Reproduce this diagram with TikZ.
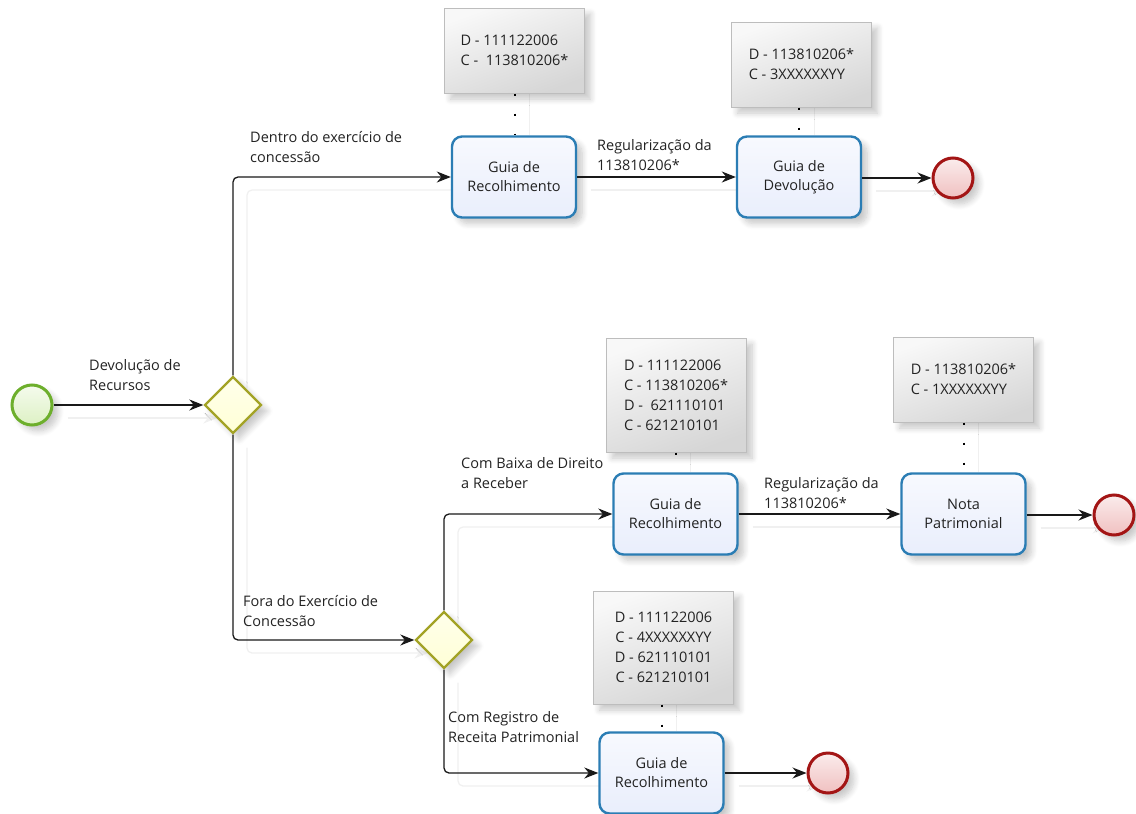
\documentclass[tikz,border=0pt]{standalone}
\usepackage{fontspec}
\setmainfont{Open Sans}
\usetikzlibrary{arrows.meta,shapes.geometric,shadows.blur,backgrounds}

\definecolor{taskline}{HTML}{2B7DB4}
\definecolor{taskfill}{HTML}{E9EEFC}
\definecolor{startline}{HTML}{6DAF2C}
\definecolor{startfill}{HTML}{DDF1C4}
\definecolor{endline}{HTML}{A31515}
\definecolor{endfill}{HTML}{F0C0C0}
\definecolor{gwline}{HTML}{A3A326}
\definecolor{gwfill}{HTML}{FFFFD6}
\definecolor{annline}{HTML}{BDBDBD}
\definecolor{annlight}{HTML}{F8F8F8}
\definecolor{anndark}{HTML}{D6D6D6}
\definecolor{txt}{HTML}{222222}

\tikzset{
  base/.style={font=\fontsize{14.5}{19}\selectfont, text=txt},
  softshadow/.style={blur shadow={shadow xshift=6pt, shadow yshift=-6pt,
      shadow blur radius=6pt, shadow blur steps=8, shadow opacity=22}},
  task/.style={base, draw=taskline, line width=2.4pt, rounded corners=10pt,
      minimum width=124pt, minimum height=81pt, align=center,
      top color=taskfill!35, bottom color=taskfill, softshadow},
  startev/.style={circle, draw=startline, line width=3pt, minimum size=40pt,
      inner sep=0pt, top color=startfill!30, bottom color=startfill, softshadow},
  endev/.style={circle, draw=endline, line width=3pt, minimum size=40pt,
      inner sep=0pt, top color=endfill!30, bottom color=endfill, softshadow},
  gateway/.style={diamond, aspect=1, draw=gwline, line width=2.4pt,
      minimum size=57pt, inner sep=0pt, top color=gwfill!50, bottom color=gwfill,
      softshadow},
  annot/.style={base, font=\fontsize{14.5}{20}\selectfont, draw=annline, line width=1pt,
      minimum width=140pt, shading=axis, top color=annlight, bottom color=anndark,
      shading angle=20, softshadow},
  flow/.style={draw=black!90, line width=1.3pt, rounded corners=5pt,
      -{Stealth[length=14pt,width=11pt]}},
  flowshadow/.style={draw=black!6, line width=1.3pt, rounded corners=5pt,
      -{Stealth[length=14pt,width=11pt]}, transform canvas={shift={(14pt,-13pt)}}},
  assoc/.style={draw=black, line width=2pt, dash pattern=on 2pt off 18pt},
  assocshadow/.style={draw=black!6, line width=1pt, transform canvas={shift={(15pt,0pt)}}},
  lbl/.style={base, font=\fontsize{14.5}{20}\selectfont, align=left, inner sep=0pt, anchor=west},
}

\begin{document}
\begin{tikzpicture}[x=1pt,y=-1pt]
\useasboundingbox (0,0) rectangle (1136,814);
\clip (0,0) rectangle (1136,814);

% events and gateways
\node[startev] (start) at (32,405) {};
\node[gateway] (g1) at (233,405) {};
\node[gateway] (g2) at (444,640) {};
\node[endev] (e1) at (953,178) {};
\node[endev] (e2) at (1114,515) {};
\node[endev] (e3) at (828,773) {};

% tasks
\node[task] (t1) at (514,177) {Guia de\\Recolhimento};
\node[task] (t2) at (799,177) {Guia de\\Devolução};
\node[task] (t3) at (675.5,514) {Guia de\\Recolhimento};
\node[task] (t4) at (963.5,514) {Nota\\Patrimonial};
\node[task] (t5) at (661.5,773) {Guia de\\Recolhimento};

% text annotations
\node[annot, minimum height=85pt, align=left] (a1) at (514.5,50.5)
  {D - 111122006\\C -~ 113810206*};
\node[annot, minimum height=85pt, align=left] (a2) at (801.5,64.5)
  {D - 113810206*\\C - 3XXXXXXYY};
\node[annot, minimum height=114pt, align=left] (a3) at (676,395)
  {D - 111122006\\C - 113810206*\\D -~ 621110101\\C - 621210101};
\node[annot, minimum height=85pt, align=left] (a4) at (963.5,379.5)
  {D - 113810206*\\C - 1XXXXXXYY};
\node[annot, minimum height=113pt, align=center] (a5) at (663.5,647.5)
  {D - 111122006\\C - 4XXXXXXYY\\D - 621110101\\C - 621210101};

% faint connector shadows, kept behind the shapes
\begin{pgfonlayer}{background}
  \draw[assocshadow] (a1.south) -- (a1.south |- t1.north);
  \draw[assocshadow] (t2.north |- a2.south) -- (t2.north);
  \draw[assocshadow] (t3.north |- a3.south) -- (t3.north);
  \draw[assocshadow] (a4.south) -- (a4.south |- t4.north);
  \draw[assocshadow] (t5.north |- a5.south) -- (t5.north);
  \draw[flowshadow] (start) -- (g1);
  \draw[flowshadow] (g1.north) |- (t1.west);
  \draw[flowshadow] (t1) -- (t2);
  \draw[flowshadow] (t2.east |- e1) -- (e1);
  \draw[flowshadow] (g1.south) |- (g2.west);
  \draw[flowshadow] (g2.north) |- (t3.west);
  \draw[flowshadow] (t3) -- (t4);
  \draw[flowshadow] (t4.east |- e2) -- (e2);
  \draw[flowshadow] (g2.south) |- (t5.west);
  \draw[flowshadow] (t5) -- (e3);
\end{pgfonlayer}

% associations
\draw[assoc] (a1.south) -- (a1.south |- t1.north);
\draw[assoc] (t2.north |- a2.south) -- (t2.north);
\draw[assoc] (t3.north |- a3.south) -- (t3.north);
\draw[assoc] (a4.south) -- (a4.south |- t4.north);
\draw[assoc] (t5.north |- a5.south) -- (t5.north);

% sequence flows
\draw[flow] (start) -- (g1);
\draw[flow] (g1.north) |- (t1.west);
\draw[flow] (t1) -- (t2);
\draw[flow] (t2.east |- e1) -- (e1);
\draw[flow] (g1.south) |- (g2.west);
\draw[flow] (g2.north) |- (t3.west);
\draw[flow] (t3) -- (t4);
\draw[flow] (t4.east |- e2) -- (e2);
\draw[flow] (g2.south) |- (t5.west);
\draw[flow] (t5) -- (e3);

% flow labels
\node[lbl] (l1) at (89,375) {Devolução de\\Recursos};
\node[lbl] (l2) at (250,147) {Dentro do exercício de\\concessão};
\node[lbl] (l3) at (597,155) {Regularização da\\113810206*};
\node[lbl] (l4) at (243,611) {Fora do Exercício de\\Concessão};
\node[lbl] (l5) at (461,473) {Com Baixa de Direito\\a Receber};
\node[lbl] (l6) at (764,493) {Regularização da\\113810206*};
\node[lbl] (l7) at (448,727) {Com Registro de\\Receita Patrimonial};
\end{tikzpicture}
\end{document}
